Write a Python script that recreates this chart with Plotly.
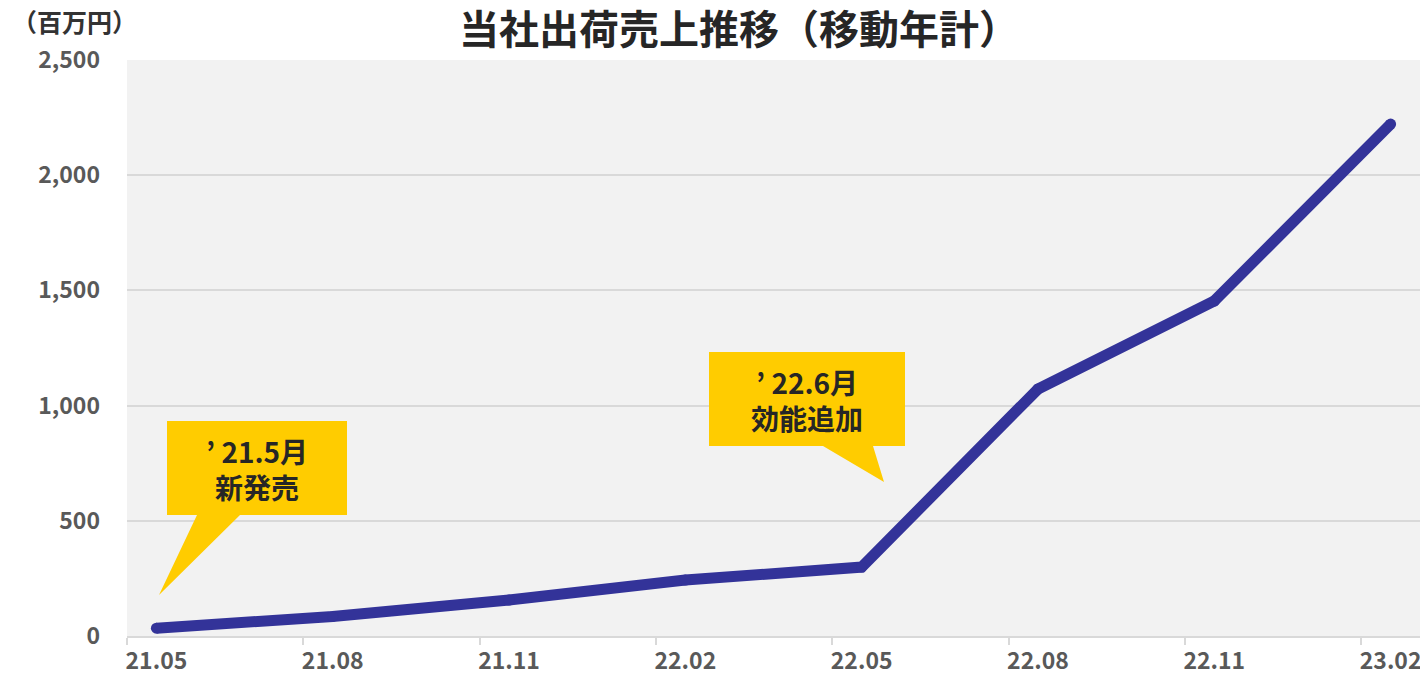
import plotly.graph_objects as go

# ---- data ----
months = ["21.05", "21.06", "21.07", "21.08", "21.09", "21.10", "21.11", "21.12",
          "22.01", "22.02", "22.03", "22.04", "22.05", "22.06", "22.07", "22.08",
          "22.09", "22.10", "22.11", "22.12", "23.01", "23.02"]
point_labels = ["21.05", "21.08", "21.11", "22.02", "22.05", "22.08", "22.11", "23.02"]
sales = [34, 85, 156, 243, 299, 1072, 1454, 2222]
y_ticks = [0, 500, 1000, 1500, 2000, 2500]
y_ticktext = ["0", "500", "1,000", "1,500", "2,000", "2,500"]

point_idx = [months.index(m) for m in point_labels]
boundaries = [i - 0.5 for i in point_idx]

LINE = "#333399"
YELLOW = "#FFCC00"
FONT = "Noto Sans CJK JP"

fig = go.Figure()
fig.add_trace(go.Scatter(
    x=point_idx, y=sales, mode="lines+markers",
    line=dict(color=LINE, width=11, shape="linear"),
    marker=dict(size=11, color=LINE, line=dict(width=0)),
    hoverinfo="skip", showlegend=False))

W, H = 1428, 675
OFF = 8  # page body margin offset
# plot area in screenshot pixels
PL, PR, PT, PB = 127, 1420, 60, 636
L, T = PL - OFF, PT - OFF
R, B = W - (PR - OFF), H - (PB - OFF)
x0, x1 = -0.5, 21.5
y0, y1 = 0, 2500
pw, ph = PR - PL, PB - PT


def dx(px):
    return x0 + (px - PL) / pw * (x1 - x0)


def dy(py):
    return y0 + (PB - py) / ph * (y1 - y0)


def callout(rect, base, tip, lines, cx):
    rx0, ry0, rx1, ry1 = rect
    path = (f"M {dx(rx0)},{dy(ry0)} L {dx(rx1)},{dy(ry0)} L {dx(rx1)},{dy(ry1)} "
            f"L {dx(base[1])},{dy(ry1)} L {dx(tip[0])},{dy(tip[1])} "
            f"L {dx(base[0])},{dy(ry1)} L {dx(rx0)},{dy(ry1)} Z")
    fig.add_shape(type="path", path=path, xref="x", yref="y",
                  fillcolor=YELLOW, line=dict(width=0), layer="above")
    fig.add_annotation(x=dx(cx), y=dy((ry0 + ry1) / 2 + 1), xref="x", yref="y",
                       text="<br>".join(lines), showarrow=False,
                       font=dict(family=FONT, size=28, color="#262626", weight="bold"),
                       align="center", yanchor="middle", xanchor="center")


callout((167, 421, 347, 515), (197, 240), (159, 595), ["’ 21.5月", "新発売"], 257)
callout((709, 352, 905, 446), (823, 873), (884, 482), ["’ 22.6月", "効能追加"], 807)

fig.update_layout(
    width=W, height=H,
    margin=dict(l=L, r=R, t=T, b=B, autoexpand=False),
    paper_bgcolor="white", plot_bgcolor="#F2F2F2",
    title=dict(text="当社出荷売上推移（移動年計）", x=(739 - OFF) / W, xanchor="center",
               y=1 - (30 - OFF) / H, yanchor="middle", yref="container",
               font=dict(family=FONT, size=40, color="#262626", weight="bold")),
    xaxis=dict(range=[x0, x1], tickmode="array", tickvals=point_idx, ticktext=point_labels,
               ticks="", showgrid=False, zeroline=False, automargin=False,
               showline=True, linecolor="#D9D9D9", linewidth=2,
               tickfont=dict(family=FONT, size=23, color="#595959", weight="bold"),
               ticklabelstandoff=3,
               minor=dict(tickmode="array", tickvals=boundaries, ticks="outside",
                          ticklen=7, tickcolor="#D9D9D9", tickwidth=2, showgrid=False)),
    yaxis=dict(range=[y0, y1], tickmode="array", tickvals=y_ticks, ticktext=y_ticktext,
               showgrid=True, gridcolor="#D9D9D9", gridwidth=1.5, zeroline=False,
               showline=False, ticks="", automargin=False,
               tickfont=dict(family=FONT, size=23, color="#595959", weight="bold"),
               ticklabelstandoff=26),
    annotations=list(fig.layout.annotations) + [
        dict(text="（百万円）", xref="paper", yref="paper",
             x=(10 - PL) / pw, y=1 + (PT - 41) / ph,
             xanchor="left", yanchor="bottom", showarrow=False,
             font=dict(family=FONT, size=25, color="#333333", weight="bold"))
    ],
)

fig.write_html("out.html")
